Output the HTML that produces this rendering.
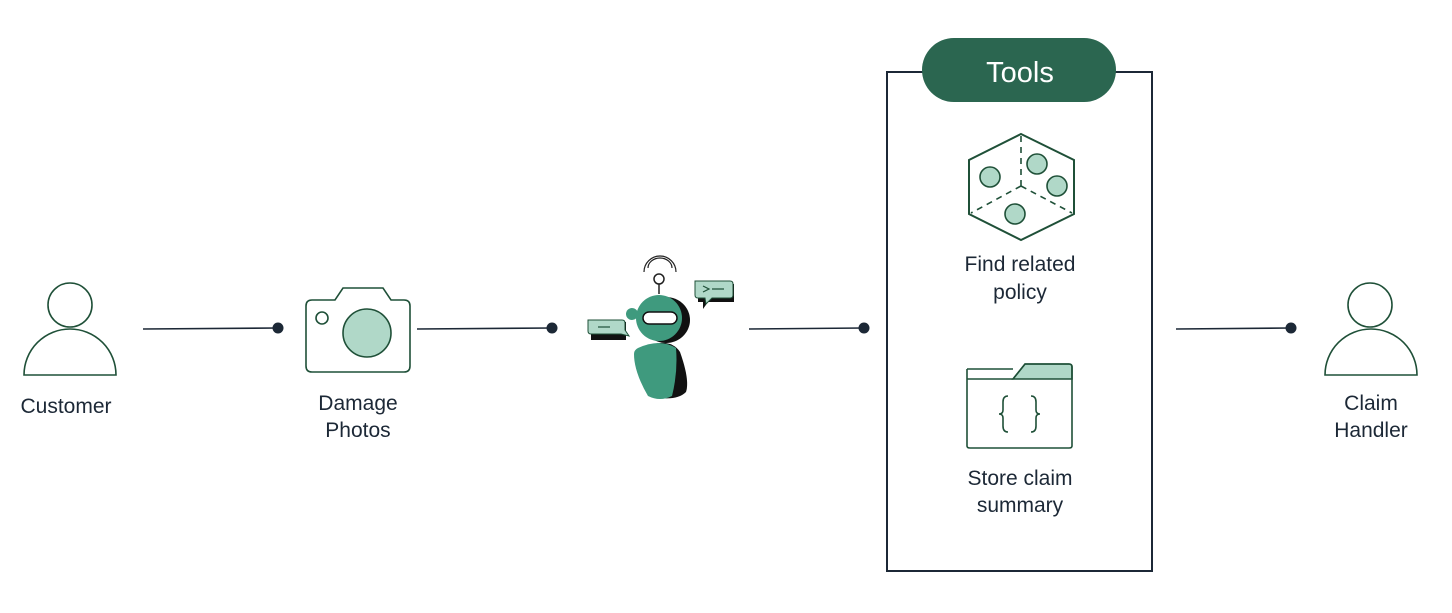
<!DOCTYPE html>
<html><head><style>
html,body{margin:0;padding:0;background:#fff;}
text{font-family:"Liberation Sans",sans-serif;fill:#1c2836;font-size:21px;}
</style></head><body>
<svg width="1452" height="608" viewBox="0 0 1452 608" xmlns="http://www.w3.org/2000/svg">
<g stroke="#1f5038" stroke-width="1.6" fill="none">
<circle cx="70" cy="305" r="22" fill="#fff"/>
<path d="M24 375 A46 46 0 0 1 116 375 Z" fill="#fff"/>
<path d="M312 300 H335 L343 288 H383 L391 300 H404 Q410 300 410 306 V366 Q410 372 404 372 H312 Q306 372 306 366 V306 Q306 300 312 300 Z" fill="#fff"/>
<circle cx="367" cy="333" r="24" fill="#b0d8c8"/>
<circle cx="322" cy="318" r="6"/>
<circle cx="1370" cy="305" r="22" fill="#fff"/>
<path d="M1325 375 A46 46 0 0 1 1417 375 Z" fill="#fff"/>
<rect x="887" y="72" width="265" height="499" stroke-width="2" stroke="#1c2836"/>
<path d="M1021 134 L1074 160 L1074 214 L1021 240 L969 214 L969 160 Z" stroke-width="2"/>
<path d="M1021 136 V186 M1021 186 L971 213 M1021 186 L1072 213" stroke-dasharray="6 5"/>
<circle cx="990" cy="177" r="10" fill="#b0d8c8"/>
<circle cx="1037" cy="164" r="10" fill="#b0d8c8"/>
<circle cx="1057" cy="186" r="10" fill="#b0d8c8"/>
<circle cx="1015" cy="214" r="10" fill="#b0d8c8"/>
<path d="M1013 379 L1025 364 H1069 Q1072 364 1072 367 V379 Z" fill="#b0d8c8"/>
<path d="M967 369 H1013 M967 369 V446 Q967 448 970 448 H1069 Q1072 448 1072 446 V367 Q1072 364 1069 364 H1025 L1013 379 H967" />
<path d="M1008 396 Q1003 396 1003 402 V410 Q1003 414 999 414 Q1003 414 1003 418 V426 Q1003 432 1008 432 M1031 396 Q1036 396 1036 402 V410 Q1036 414 1040 414 Q1036 414 1036 418 V426 Q1036 432 1031 432"/>
</g>
<g stroke="#1c2836" stroke-width="1.6">
<line x1="143" y1="329" x2="278" y2="328"/>
<line x1="417" y1="329" x2="552" y2="328"/>
<line x1="749" y1="329" x2="864" y2="328"/>
<line x1="1176" y1="329" x2="1290" y2="328"/>
</g>
<g fill="#1c2836">
<circle cx="278" cy="328" r="5.5"/><circle cx="552" cy="328" r="5.5"/><circle cx="864" cy="328" r="5.5"/><circle cx="1291" cy="328" r="5.5"/>
</g>
<rect x="922" y="38" width="194" height="64" rx="32" fill="#2b6650"/>
<text x="1020" y="82" text-anchor="middle" style="fill:#fff;font-size:29px">Tools</text>
<g>
<path d="M644 272 A16 16 0 0 1 676 272 M648 268 A12 10 0 0 1 672 268" stroke="#222" stroke-width="1.2" fill="none"/>
<circle cx="659" cy="279" r="5" fill="#fff" stroke="#222" stroke-width="1.5"/>
<line x1="659" y1="284" x2="659" y2="294" stroke="#222" stroke-width="1.5"/>
<ellipse cx="666" cy="320" rx="24" ry="23" fill="#111"/>
<circle cx="632" cy="314" r="6" fill="#3f9a7e"/>
<circle cx="659" cy="318" r="23" fill="#3f9a7e"/>
<rect x="643" y="312" width="34" height="12" rx="6" fill="#fff" stroke="#111" stroke-width="1.5"/>
<path d="M641 348 Q670 336 680 352 Q690 380 686 392 Q678 400 660 398 Z" fill="#111"/>
<path d="M638 348 Q660 338 676 348 Q678 372 672 396 Q660 402 648 396 Q634 372 634 354 Q634 350 638 348 Z" fill="#3f9a7e"/>
<path d="M591 322 H626 V340 H591 Z" fill="#111"/>
<path d="M588 320 H622 Q625 320 625 323 V330 L629 336 L621 334 H591 Q588 334 588 331 Z" fill="#b0d8c8" stroke="#1f5038" stroke-width="1"/>
<line x1="598" y1="327" x2="610" y2="327" stroke="#1f5038" stroke-width="1.2"/>
<path d="M698 284 H734 V302 H708 L703 309 V302 H698 Z" fill="#111"/>
<path d="M695 281 H730 Q733 281 733 284 V295 Q733 298 730 298 H712 L706 304 L705 298 H698 Q695 298 695 295 Z" fill="#b0d8c8" stroke="#1f5038" stroke-width="1"/>
<path d="M703 286 L709 289 L703 292 M712 289 H724" stroke="#1f5038" stroke-width="1.2" fill="none"/>
</g>
<g text-anchor="middle">
<text x="66" y="413">Customer</text>
<text x="358" y="410">Damage</text>
<text x="358" y="437">Photos</text>
<text x="1020" y="271">Find related</text>
<text x="1020" y="299">policy</text>
<text x="1020" y="485">Store claim</text>
<text x="1020" y="512">summary</text>
<text x="1371" y="410">Claim</text>
<text x="1371" y="437">Handler</text>
</g>
</svg>
</body></html>
